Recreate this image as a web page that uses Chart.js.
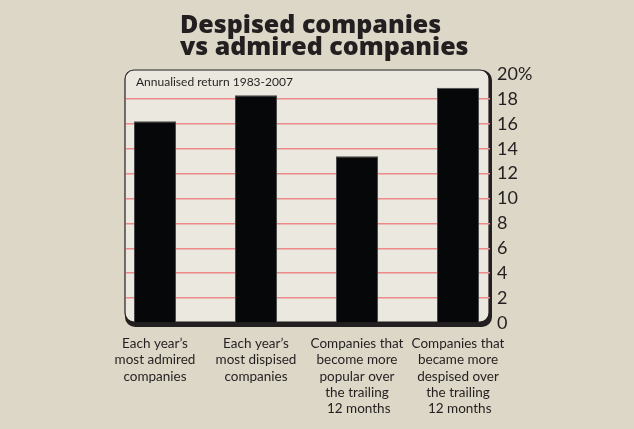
<!DOCTYPE html>
<html>
<head>
<meta charset="utf-8">
<script src="https://cdn.jsdelivr.net/npm/chart.js@4.4.1/dist/chart.umd.min.js"></script>
<style>
  html, body { margin: 0; padding: 0; background: #dcd7c7; }
  #wrap { width: 634px; height: 429px; }
</style>
</head>
<body>
<div id="wrap"><canvas id="chart"></canvas></div>
<script>
// data
var titleLines = ['Despised companies', 'vs admired companies'];
var subtitle = 'Annualised return 1983-2007';
var categories = [
  ['Each year\u2019s', 'most admired', 'companies'],
  ['Each year\u2019s', 'most dispised', 'companies'],
  ['Companies that', 'become more', 'popular over', 'the trailing', ' 12 months'],
  ['Companies that', 'became more', 'despised over', 'the trailing', ' 12 months']
];
var returns = [16.2, 18.3, 13.4, 18.9];
var yTicks = [0, 2, 4, 6, 8, 10, 12, 14, 16, 18, 20];

var ink = '#231f20';
var font = 'Lato, "Open Sans", sans-serif';

// rounded panel behind the plot, heavier edge bottom/right; title + subtitle on top
var panelPlugin = {
  id: 'panel',
  beforeDraw: function(chart) {
    var a = chart.chartArea, ctx = chart.ctx;
    var x = a.left - 1, y = a.top - 4, w = a.right - a.left + 1, h = a.bottom - a.top + 4;
    ctx.save();
    ctx.fillStyle = ink;
    ctx.beginPath();
    ctx.roundRect(x, y, w + 2, h + 4, 10);
    ctx.fill();
    ctx.fillStyle = '#ebe9df';
    ctx.strokeStyle = ink;
    ctx.lineWidth = 1.2;
    ctx.beginPath();
    ctx.roundRect(x, y, w - 1, h - 1, 9);
    ctx.fill();
    ctx.stroke();
    ctx.restore();
  },
  afterDraw: function(chart) {
    var a = chart.chartArea, ctx = chart.ctx;
    ctx.save();
    ctx.fillStyle = ink;
    ctx.textAlign = 'left';
    ctx.textBaseline = 'alphabetic';
    ctx.font = '800 25px "Open Sans", "DejaVu Sans", sans-serif';
    ctx.fillText(titleLines[0], 180, 33);
    ctx.fillText(titleLines[1], 180, 55);
    ctx.textBaseline = 'middle';
    ctx.font = '12px ' + font;
    ctx.fillText(subtitle, a.left + 10, a.top + 8);
    ctx.restore();
  }
};

new Chart(document.getElementById('chart'), {
  type: 'bar',
  data: {
    datasets: [{
      data: returns.map(function(v, i) { return { x: i, y: v }; }),
      backgroundColor: '#060708',
      borderColor: '#4a4a4a',
      borderWidth: 1,
      barPercentage: 0.416,
      categoryPercentage: 1
    }]
  },
  options: {
    responsive: true,
    maintainAspectRatio: false,
    animation: false,
    layout: { padding: { left: 126, right: 0, top: 74, bottom: 0 } },
    plugins: {
      legend: { display: false },
      tooltip: { enabled: false },
      title: { display: false }
    },
    scales: {
      x: {
        type: 'linear',
        min: -0.287,
        max: 3.317,
        offset: false,
        afterBuildTicks: function(s) {
          s.ticks = categories.map(function(c, i) { return { value: i }; });
        },
        afterFit: function(s) { s.height = 106; },
        grid: { display: false, drawTicks: false },
        border: { display: false },
        ticks: {
          autoSkip: false,
          maxRotation: 0,
          padding: 12,
          color: ink,
          font: { family: font, size: 13.5, lineHeight: 1.22 },
          callback: function(v) { return categories[v]; }
        }
      },
      y: {
        position: 'right',
        min: 0,
        max: 20,
        afterBuildTicks: function(s) {
          s.ticks = yTicks.map(function(v) { return { value: v }; });
        },
        afterFit: function(s) { s.width = 144; },
        border: { display: false },
        grid: {
          drawTicks: false,
          lineWidth: 1.5,
          color: function(c) {
            var v = c.tick && c.tick.value;
            return (v === 0 || v === 20) ? 'rgba(0,0,0,0)' : '#ec8a8a';
          }
        },
        ticks: {
          padding: 7,
          color: ink,
          font: { family: font, size: 18 },
          callback: function(v) { return v === 20 ? v + '%' : v; }
        }
      }
    }
  },
  plugins: [panelPlugin]
});
</script>
</body>
</html>
